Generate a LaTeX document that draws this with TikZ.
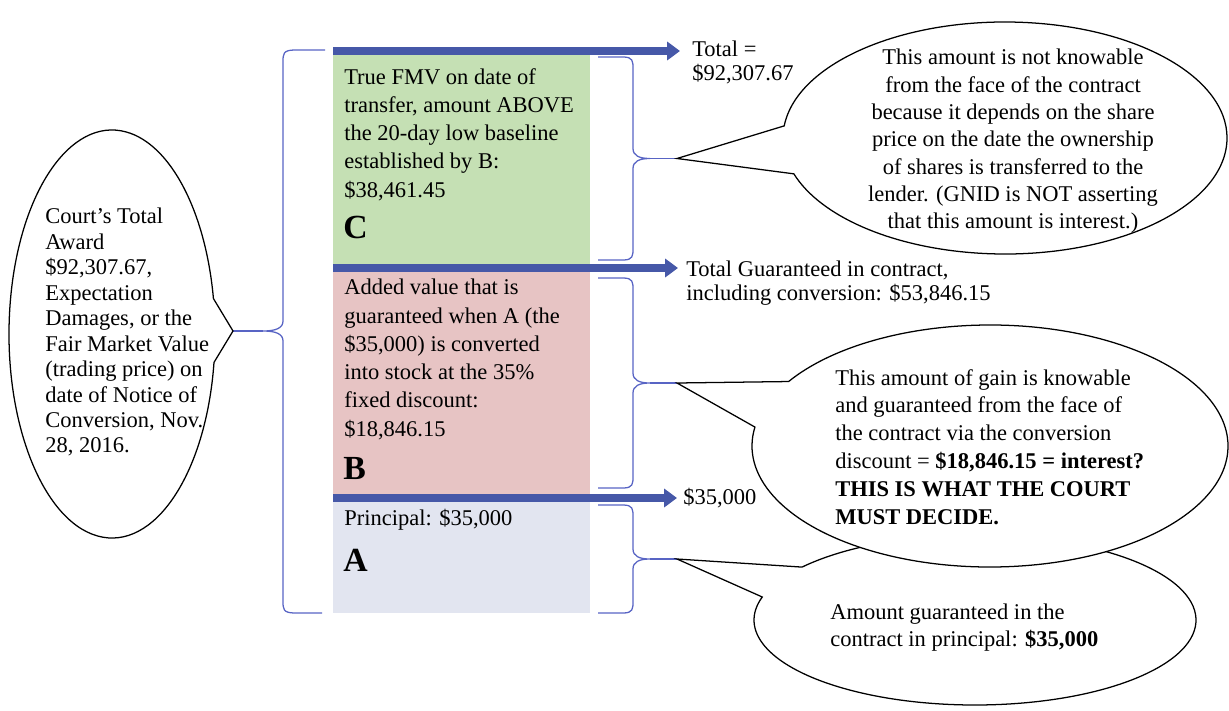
\documentclass[tikz,border=0pt]{standalone}
\usepackage{fontspec}
\setmainfont{Liberation Serif}
\usetikzlibrary{arrows.meta,calc}
\definecolor{fmvgreen}{RGB}{197,224,180}
\definecolor{gainpink}{RGB}{231,196,196}
\definecolor{princgray}{RGB}{226,229,240}
\definecolor{barblue}{RGB}{70,88,168}
\definecolor{brcblue}{RGB}{88,100,196}
\begin{document}
\begin{tikzpicture}[x=0.025cm,y=-0.025cm,
box/.style={anchor=north west,inner sep=0pt,minimum width=6.425cm},
txt/.style={anchor=north west,inner sep=0pt,align=left,font=\fontsize{16}{20.1}\selectfont},
bar/.style={barblue,line width=0.18cm,-{Triangle[length=0.32cm,width=0.45cm]}},
brc/.style={brcblue,line width=0.9pt},
cout/.style={draw=black,fill=white,line width=0.9pt},
letter/.style={anchor=west,inner sep=0pt,font=\fontsize{24}{28}\selectfont\bfseries}]
\useasboundingbox (0,0) rectangle (1229,710);
\pgfmathsetmacro{\kbx}{598}
\pgfmathsetmacro{\kvx}{633}
\pgfmathsetmacro{\ktx}{650}
\node[box,fill=fmvgreen,minimum height=5.425cm](boxC) at (333,51){};
\node[box,fill=gainpink,minimum height=5.75cm](boxB) at (333,268){};
\node[box,fill=princgray,minimum height=2.875cm](boxA) at (333,498){};
\node[txt](txtC) at (344,68){True FMV on date of\\transfer, amount ABOVE\\the 20-day low baseline\\established by B:\\\$38,461.45};
\node[letter](letC) at (343,227){C};
\node[txt](txtB) at (344,279){Added value that is\\guaranteed when A (the\\\$35,000) is converted\\into stock at the 35\%\\fixed discount:\\\$18,846.15};
\node[letter](letB) at (343,468){B};
\node[txt](txtA) at (344,509){Principal: \$35,000};
\node[letter](letA) at (343,560){A};
\coordinate (endC) at (680,51);
\coordinate (endB) at (678,268);
\coordinate (endA) at (677,498);
\foreach \n in {C,B,A}{\draw[bar](box\n.north west)--(end\n);}
\node[txt,font=\fontsize{16}{17}\selectfont](totC) at (692,41){Total =\\\$92,307.67};
\node[txt,font=\fontsize{16}{17}\selectfont](totB) at (686,261){Total Guaranteed in contract,\\including conversion: \$53,846.15};
\node[anchor=west,inner sep=0pt,font=\fontsize{16}{17}\selectfont](totA) at (683,498){\$35,000};
\foreach \yt/\yb/\n in {57/260/C,278/488/B,505/613/A}{
\pgfmathsetmacro{\ym}{(\yt+\yb)/2}
\draw[brc](\kbx,\yt)--(\kvx-10,\yt) .. controls (\kvx,\yt) and (\kvx,\yt+4) .. (\kvx,\yt+12)--(\kvx,\ym-10) .. controls (\kvx,\ym-3) and (\ktx-11,\ym) .. (\ktx,\ym) .. controls (\ktx-11,\ym) and (\kvx,\ym+3) .. (\kvx,\ym+10)--(\kvx,\yb-12) .. controls (\kvx,\yb-4) and (\kvx,\yb) .. (\kvx-10,\yb)--(\kbx,\yb);
\coordinate (tip\n) at (677,\ym);
\draw[brc](\ktx,\ym)--(tip\n);
}
\draw[brc](325,50)--(295,50) .. controls (283,50) and (283,54) .. (283,62)--(283,321) .. controls (283,328) and (276,331) .. (263,331) .. controls (276,331) and (283,334) .. (283,341)--(283,601) .. controls (283,609) and (283,613) .. (295,613)--(322,613);
\coordinate (tipL) at (233,331);
\draw[brc](263,331)--(tipL);
\coordinate (cenL) at (112,334);
\coordinate (cenC) at (1005,138);
\coordinate (cenB) at (990,446);
\coordinate (cenA) at (975,620);
\draw[cout](tipL)--($(cenL)+(8:103 and 204)$) arc[start angle=8,end angle=350,x radius=103,y radius=204]--cycle;
\draw[cout](tipA)--($(cenA)+(218.5:221 and 85)$) arc[start angle=218.5,end angle=555.7,x radius=221,y radius=85]--cycle;
\draw[cout](tipB)--($(cenB)+(212.2:238 and 121)$) arc[start angle=212.2,end angle=549,x radius=238,y radius=121]--cycle;
\draw[cout](tipC)--($(cenC)+(186:222 and 116)$) arc[start angle=186,end angle=522,x radius=222,y radius=116]--cycle;
\node[txt,font=\fontsize{16}{18.1}\selectfont](noteL) at (45,208){Court's Total\\Award\\\$92,307.67,\\Expectation\\Damages, or the\\Fair Market Value\\(trading price) on\\date of Notice of\\Conversion, Nov.\\28, 2016.};
\node[txt,align=center,anchor=north,font=\fontsize{16}{19.4}\selectfont](noteC) at (1013,49){This amount is not knowable\\from the face of the contract\\because it depends on the share\\price on the date the ownership\\of shares is transferred to the\\lender. (GNID is NOT asserting\\that this amount is interest.)};
\node[txt,font=\fontsize{16}{19.8}\selectfont](noteB) at (835,369){This amount of gain is knowable\\and guaranteed from the face of\\the contract via the conversion\\discount = \textbf{\$18,846.15 = interest?}\\\textbf{THIS IS WHAT THE COURT}\\\textbf{MUST DECIDE.}};
\node[txt,font=\fontsize{16}{19.1}\selectfont](noteA) at (830,604){Amount guaranteed in the\\contract in principal: \textbf{\$35,000}};
\end{tikzpicture}
\end{document}
